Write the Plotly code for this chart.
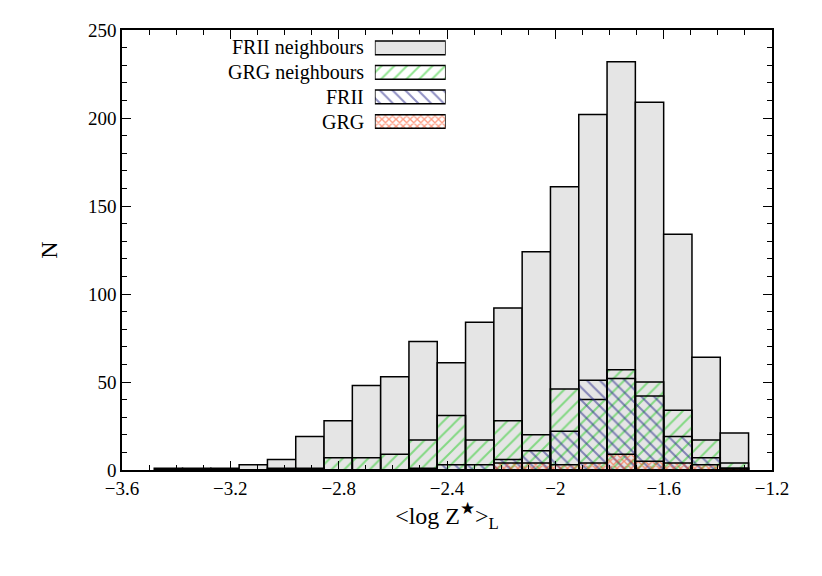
import plotly.graph_objects as go

# histogram bins (21 bins, width ~0.1045)
bin_start = -3.481
bin_width = 0.1045
frii_neigh = [1, 1, 1, 3, 6, 19, 28, 48, 53, 73, 61, 84, 92, 124, 161, 202, 232, 209, 134, 64, 21]
grg_neigh = [0, 0, 0, 0, 1, 1, 7, 7, 9, 17, 31, 17, 28, 20, 46, 40, 57, 50, 34, 17, 4]
frii = [0, 0, 0, 0, 0, 0, 0, 0, 0, 1, 3, 3, 6, 11, 22, 51, 52, 42, 19, 7, 1]
grg = [0, 0, 0, 0, 0, 0, 0, 0, 0, 0, 0, 0, 4, 4, 3, 4, 9, 5, 4, 3, 1]
names = ["FRII neighbours", "GRG neighbours", "FRII", "GRG"]

centers = [bin_start + bin_width * (i + 0.5) for i in range(len(frii_neigh))]

styles = [
    dict(color="#e5e5e5", pattern=None),
    dict(color="rgba(0,0,0,0)", pattern=dict(shape="/", fgcolor="#22cc22", size=9, solidity=0.22)),
    dict(color="rgba(0,0,0,0)", pattern=dict(shape="\\", fgcolor="#222288", size=9, solidity=0.22)),
    dict(color="rgba(0,0,0,0)", pattern=dict(shape="x", fgcolor="#ff3300", size=5, solidity=0.45)),
]

fig = go.Figure()
for name, vals, st in zip(names, [frii_neigh, grg_neigh, frii, grg], styles):
    marker = dict(color=st["color"], line=dict(color="black", width=1.5))
    if st["pattern"]:
        marker["pattern"] = dict(bgcolor="rgba(0,0,0,0)", **st["pattern"])
    fig.add_trace(go.Bar(x=centers, y=vals, width=bin_width, name=name, marker=marker,
                         showlegend=False))
    # legend swatch on inset axes
    fig.add_trace(go.Bar(x=[1], y=[name], orientation="h", width=0.56, marker=marker,
                         xaxis="x2", yaxis="y2", showlegend=False, hoverinfo="skip"))
    fig.add_annotation(x=0.375, xref="paper", y=name, yref="y2", text=name,
                       showarrow=False, xanchor="right", font=dict(size=20))

axis_common = dict(showline=True, linecolor="black", linewidth=1.5, mirror="ticks",
                   ticks="inside", ticklen=9, tickcolor="black", showgrid=False, zeroline=False,
                   tickfont=dict(size=19))
fig.update_layout(
    width=822, height=576,
    paper_bgcolor="white", plot_bgcolor="white",
    margin=dict(l=114, r=58, t=22, b=114),
    barmode="overlay",
    font=dict(family="Liberation Serif", color="black", size=20),
    xaxis=dict(range=[-3.6, -1.2], dtick=0.4, tick0=-3.6,
               minor=dict(dtick=0.1, ticks="inside", ticklen=5, tickcolor="black"),
               title=dict(text="<log Z<sup>★</sup>><sub>L</sub>", standoff=8),
               **axis_common),
    yaxis=dict(range=[0, 250], dtick=50,
               minor=dict(dtick=10, ticks="inside", ticklen=5, tickcolor="black"),
               title=dict(text="N", standoff=24), **axis_common),
    xaxis2=dict(domain=[0.389, 0.498], range=[0, 1], visible=False, anchor="y2"),
    yaxis2=dict(domain=[0.7625, 0.99], autorange="reversed", visible=False, anchor="x2",
                categoryorder="array", categoryarray=names),
)
fig.write_html("out.html")
